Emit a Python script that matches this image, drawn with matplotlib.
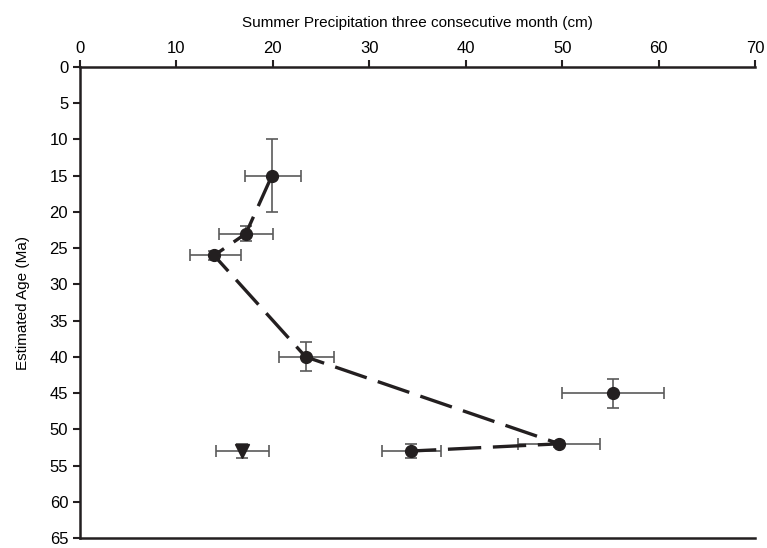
import matplotlib
matplotlib.use("Agg")
import matplotlib.pyplot as plt

plt.rcParams['font.family'] = ['Liberation Sans', 'DejaVu Sans']

# connected series (precipitation cm, age Ma)
precip = [19.9, 17.2, 13.9, 23.4, 49.7, 34.3]
age = [15, 23, 26, 40, 52, 53]
precip_lo = [17.1, 14.4, 11.4, 20.6, 45.4, 31.3]
precip_hi = [22.9, 20.0, 16.7, 26.3, 53.9, 37.4]
age_lo = [10, 22, 25.4, 38, 51.6, 52]
age_hi = [20, 24, 26.6, 42, 52.4, 54]

# isolated circle
iso_precip = [55.3]
iso_age = [45]
iso_plo, iso_phi = [50.0], [60.6]
iso_alo, iso_ahi = [43], [47]

# triangle
tri_precip = [16.8]
tri_age = [53]
tri_plo, tri_phi = [14.1], [19.6]
tri_alo, tri_ahi = [52], [54]

dark = '#231f20'
errc = '#5a5a5a'

fig = plt.figure(figsize=(7.67, 5.48), dpi=100)
ax = fig.add_axes([80/767, 1-538/548, 675/767, 471/548])


def err(x, y, xlo, xhi, ylo, yhi):
    xe = [[a - b for a, b in zip(x, xlo)], [b - a for a, b in zip(x, xhi)]]
    ye = [[a - b for a, b in zip(y, ylo)], [b - a for a, b in zip(y, yhi)]]
    ax.errorbar(x, y, xerr=xe, yerr=ye, fmt='none', ecolor=errc,
                elinewidth=1.2, capsize=4.5, capthick=1.2, zorder=2)


err(precip, age, precip_lo, precip_hi, age_lo, age_hi)
err(iso_precip, iso_age, iso_plo, iso_phi, iso_alo, iso_ahi)
err(tri_precip, tri_age, tri_plo, tri_phi, tri_alo, tri_ahi)

ax.plot(precip, age, color=dark, lw=2.4, dashes=(10, 3.5), zorder=3)
ax.plot(precip, age, 'o', color=dark, ms=8.5, zorder=4)
ax.plot(iso_precip, iso_age, 'o', color=dark, ms=8.5, zorder=4)
ax.plot(tri_precip, tri_age, 'v', color=dark, ms=9.5, zorder=4)

ax.set_xlim(0, 70)
ax.set_ylim(65, 0)
ax.set_xticks(range(0, 71, 10))
ax.set_yticks(range(0, 66, 5))
ax.xaxis.tick_top()
ax.xaxis.set_label_position('top')
ax.set_xlabel('Summer Precipitation three consecutive month (cm)', fontsize=11, labelpad=10)
ax.set_ylabel('Estimated Age (Ma)', fontsize=11, labelpad=14)
ax.tick_params(axis='both', labelsize=12, direction='out', length=5, width=1.5, color=dark)
ax.tick_params(axis='x', pad=3)

ax.spines['right'].set_visible(False)
for s in ['top', 'left', 'bottom']:
    ax.spines[s].set_linewidth(1.8)
    ax.spines[s].set_color(dark)

fig.savefig('out.png', dpi=100)
